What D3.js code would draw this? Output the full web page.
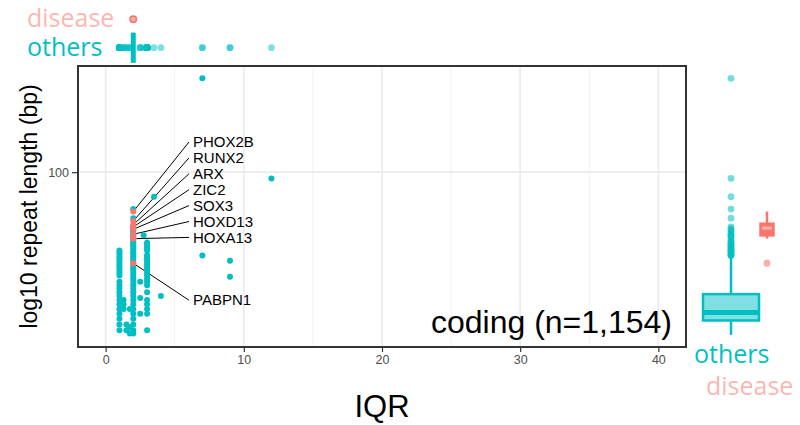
<!DOCTYPE html>
<html>
<head>
<meta charset="utf-8">
<script src="https://cdn.jsdelivr.net/npm/d3@7"></script>
<style>
  body { margin: 0; background: #fff; }
  svg { display: block; font-family: "Liberation Sans", Arial, sans-serif; }
  .grp { font-family: "Open Sans", sans-serif; font-size: 25px; }
</style>
</head>
<body>
<script>
// repeat length (bp) of the "others" loci (IQR = 1, 2, 3)
const othersCol1 = [12, 13, 14, 15, 16, 17, 18, 19, 20, 21, 22, 23, 25, 26, 27, 28, 29, 30, 31, 32, 33, 34, 35];
const othersCol2 = [11.5, 12, 13, 14, 15, 16, 17, 18, 19, 20, 21, 22, 23, 24, 25, 26, 27, 28, 29, 30,
  31, 32, 33, 34, 35, 36, 37, 38, 39, 40, 41, 42, 43, 44, 45, 46, 47, 48, 54, 61];
const othersCol3 = [12, 15, 16, 17, 18, 20, 22, 23, 24, 25, 26, 27, 28, 29, 30, 31, 32, 33, 35, 36, 37, 38, 39];

// "others" points away from those columns
const strayIqr = [1.3, 1.3, 1.3, 1.5, 1.5, 1.75, 1.75, 1.75, 2.5, 2.5, 2.5, 2.75, 3.5, 4, 7, 7, 9, 9, 12];
const strayLen = [18, 17, 16, 13, 12, 16, 12.5, 11.5, 23, 18.5, 15, 43, 72, 19, 352, 32.7, 30.5, 24.6, 92];

// disease loci
const diseaseGenes = ["PHOX2B", "RUNX2", "ARX", "ZIC2", "SOX3", "HOXD13", "HOXA13", "PABPN1"];
const diseaseIqr = [2, 2, 2, 2, 2, 2, 2, 2];
const diseaseLen = [59, 52, 49.5, 48, 46.5, 43.5, 41, 29.5];

// marginal boxplots of all "others" (lower whisker, Q1, median, Q3, upper whisker)
const othersLenBox = [11.3, 13.7, 15.25, 19.5, 32.4];
const othersIqrBox = [2, 2, 2, 2, 2];

const xTicks = [0, 10, 20, 30, 40];
const xMinor = [5, 15, 25, 35];
const yTicks = [100];

const cyan = "#00BFC4", red = "#F8766D";
const width = 800, height = 425;
const panel = { left: 78, right: 686, top: 66, bottom: 347 };

const svg = d3.select("body").append("svg")
  .attr("width", width)
  .attr("height", height);

const x = d3.scaleLinear().domain([-2, 42]).range([panel.left, panel.right]);
const y = d3.scaleLog().domain([9.6, 415]).range([panel.bottom, panel.top]);

// point lists
const others = [];
othersCol1.forEach(v => others.push({ iqr: 1, len: v }));
othersCol2.forEach(v => others.push({ iqr: 2, len: v }));
othersCol3.forEach(v => others.push({ iqr: 3, len: v }));
strayIqr.forEach((v, i) => others.push({ iqr: v, len: strayLen[i] }));
const disease = diseaseGenes.map((g, i) => ({ gene: g, iqr: diseaseIqr[i], len: diseaseLen[i] }));

// grid
const grid = svg.append("g");
grid.selectAll(".minor").data(xMinor).join("line")
  .attr("x1", d => x(d)).attr("x2", d => x(d))
  .attr("y1", panel.top).attr("y2", panel.bottom)
  .attr("stroke", "#f0f0f0").attr("stroke-width", 0.9);
grid.selectAll(".major").data(xTicks).join("line")
  .attr("x1", d => x(d)).attr("x2", d => x(d))
  .attr("y1", panel.top).attr("y2", panel.bottom)
  .attr("stroke", "#ebebeb").attr("stroke-width", 1.6);
grid.selectAll(".ymajor").data(yTicks).join("line")
  .attr("x1", panel.left).attr("x2", panel.right)
  .attr("y1", d => y(d)).attr("y2", d => y(d))
  .attr("stroke", "#ebebeb").attr("stroke-width", 1.6);

// label layout (ggrepel-like stack to the right of the x=2 column)
const labelX = 193;
const labelY = (d, i) => i < 7 ? 142 + i * 15.9 : y(d.len) + 37;

// connector segments
svg.append("g").selectAll("line").data(disease).join("line")
  .each(function (d, i) {
    const x0 = x(d.iqr), y0 = y(d.len);
    const x1 = labelX - 4, y1 = labelY(d, i);
    const L = Math.hypot(x1 - x0, y1 - y0);
    d3.select(this)
      .attr("x1", x0 + (x1 - x0) / L * 3).attr("y1", y0 + (y1 - y0) / L * 3)
      .attr("x2", x1).attr("y2", y1);
  })
  .attr("stroke", "#000").attr("stroke-width", 1);

// scatter points
svg.append("g").selectAll("circle").data(others).join("circle")
  .attr("cx", d => x(d.iqr))
  .attr("cy", d => y(d.len))
  .attr("r", 3)
  .attr("fill", cyan);
svg.append("g").selectAll("circle").data(disease).join("circle")
  .attr("cx", d => x(d.iqr))
  .attr("cy", d => y(d.len))
  .attr("r", 3)
  .attr("fill", red);

// gene labels
svg.append("g").selectAll("text").data(disease).join("text")
  .attr("x", labelX)
  .attr("y", (d, i) => labelY(d, i))
  .attr("dy", "0.35em")
  .attr("font-size", 15)
  .text(d => d.gene);

// panel border
svg.append("rect")
  .attr("x", panel.left).attr("y", panel.top)
  .attr("width", panel.right - panel.left)
  .attr("height", panel.bottom - panel.top)
  .attr("fill", "none")
  .attr("stroke", "#333").attr("stroke-width", 2);

// axes
const xAxis = svg.append("g")
  .attr("transform", `translate(0,${panel.bottom + 1})`)
  .call(d3.axisBottom(x).tickValues(xTicks).tickSize(4).tickPadding(3));
const yAxis = svg.append("g")
  .attr("transform", `translate(${panel.left - 1},0)`)
  .call(d3.axisLeft(y).tickValues(yTicks).tickFormat(d3.format("d")).tickSize(5).tickPadding(3));
[xAxis, yAxis].forEach(a => {
  a.select(".domain").remove();
  a.selectAll(".tick line").attr("stroke", "#333").attr("stroke-width", 1.2);
  a.selectAll(".tick text").attr("fill", "#4d4d4d").attr("font-size", 12.5)
    .attr("font-family", "Liberation Sans, Arial, sans-serif");
});

svg.append("text")
  .attr("x", (panel.left + panel.right) / 2).attr("y", 417)
  .attr("text-anchor", "middle").attr("font-size", 31)
  .text("IQR");
svg.append("text")
  .attr("transform", `translate(37,${(panel.top + panel.bottom) / 2}) rotate(-90)`)
  .attr("text-anchor", "middle").attr("font-size", 23)
  .text("log10 repeat length (bp)");
svg.append("text")
  .attr("x", 672).attr("y", 333)
  .attr("text-anchor", "end").attr("font-size", 32)
  .text("coding (n=1,154)");

// ---- marginal boxplots ----
const topPos = d3.scalePoint().domain(["disease", "others"]).range([19.3, 47.7]);
const rightPos = d3.scalePoint().domain(["others", "disease"]).range([731, 767]);

// disease length summary, computed on log10 values like the plot's log axis
const dLog = diseaseLen.map(Math.log10).sort(d3.ascending);
const dq1 = d3.quantile(dLog, 0.25), dq3 = d3.quantile(dLog, 0.75), dmed = d3.quantile(dLog, 0.5);
const dLo = d3.min(dLog.filter(v => v >= dq1 - 1.5 * (dq3 - dq1)));
const dHi = d3.max(dLog.filter(v => v <= dq3 + 1.5 * (dq3 - dq1)));
const diseaseLenBox = [dLo, dq1, dmed, dq3, dHi].map(v => Math.pow(10, v));

// top: IQR of others (horizontal)
const tb = othersIqrBox, ty = topPos("others"), th = 15;
const topG = svg.append("g");
topG.selectAll("circle").data(others.filter(d => d.iqr < tb[0] || d.iqr > tb[4])).join("circle")
  .attr("cx", d => x(d.iqr)).attr("cy", ty).attr("r", 3.4)
  .attr("fill", cyan).attr("opacity", 0.5);
topG.append("path")
  .attr("d", `M${x(tb[1])},${ty - th}H${x(tb[3])}V${ty + th}H${x(tb[1])}Z`)
  .attr("fill", cyan).attr("fill-opacity", 0.5)
  .attr("stroke", cyan).attr("stroke-width", 2.5);
topG.append("line")
  .attr("x1", x(tb[2])).attr("x2", x(tb[2]))
  .attr("y1", ty - th).attr("y2", ty + th)
  .attr("stroke", cyan).attr("stroke-width", 5);
// disease IQRs all equal: the box collapses to a dot
topG.append("circle")
  .attr("cx", x(d3.median(diseaseIqr))).attr("cy", topPos("disease")).attr("r", 3.2)
  .attr("fill", "#fab0aa").attr("stroke", red).attr("stroke-width", 1.6);

// right: length, others
const rb = othersLenBox, rx = rightPos("others"), rw = 28;
const rightG = svg.append("g");
rightG.append("line")
  .attr("x1", rx).attr("x2", rx).attr("y1", y(rb[0])).attr("y2", y(rb[4]))
  .attr("stroke", cyan).attr("stroke-width", 2.5);
rightG.selectAll(".out").data(others.filter(d => d.len < rb[0] || d.len > rb[4])).join("circle")
  .attr("cx", rx).attr("cy", d => y(d.len)).attr("r", 3.4)
  .attr("fill", cyan).attr("opacity", 0.55);
rightG.append("rect")
  .attr("x", rx - rw).attr("width", rw * 2)
  .attr("y", y(rb[3])).attr("height", y(rb[1]) - y(rb[3]))
  .attr("fill", "#80dfe1")
  .attr("stroke", cyan).attr("stroke-width", 2.5);
rightG.append("line")
  .attr("x1", rx - rw).attr("x2", rx + rw).attr("y1", y(rb[2])).attr("y2", y(rb[2]))
  .attr("stroke", cyan).attr("stroke-width", 5);

// right: length, disease
const db = diseaseLenBox, dx = rightPos("disease"), dw = 6.5;
rightG.append("line")
  .attr("x1", dx).attr("x2", dx).attr("y1", y(db[0])).attr("y2", y(db[4]))
  .attr("stroke", red).attr("stroke-width", 2.5);
rightG.selectAll(".dout").data(disease.filter(d => d.len < db[0] || d.len > db[4])).join("circle")
  .attr("cx", dx).attr("cy", d => y(d.len)).attr("r", 3.4)
  .attr("fill", red).attr("opacity", 0.6);
rightG.append("rect")
  .attr("x", dx - dw).attr("width", dw * 2)
  .attr("y", y(db[3])).attr("height", y(db[1]) - y(db[3]))
  .attr("fill", red)
  .attr("stroke", red).attr("stroke-width", 2.5);
rightG.append("line")
  .attr("x1", dx - dw + 1.5).attr("x2", dx + dw - 1.5).attr("y1", y(db[2])).attr("y2", y(db[2]))
  .attr("stroke", "#fab0aa").attr("stroke-width", 3);

// group names
svg.append("text").attr("class", "grp").attr("x", 27).attr("y", 27)
  .attr("fill", red).attr("fill-opacity", 0.55).text("disease");
svg.append("text").attr("class", "grp").attr("x", 27).attr("y", 56)
  .attr("fill", cyan).text("others");
svg.append("text").attr("class", "grp").attr("x", 694).attr("y", 363)
  .attr("fill", cyan).text("others");
svg.append("text").attr("class", "grp").attr("x", 706).attr("y", 395)
  .attr("fill", red).attr("fill-opacity", 0.55).text("disease");
</script>
</body>
</html>
